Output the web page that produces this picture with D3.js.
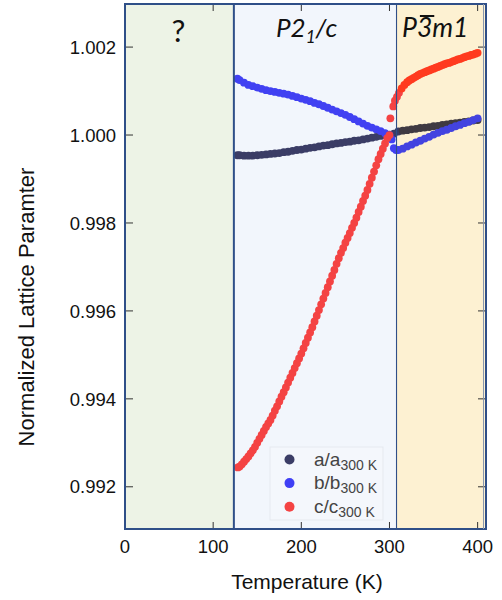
<!DOCTYPE html>
<html><head><meta charset="utf-8">
<script src="https://cdn.jsdelivr.net/npm/d3@7"></script>
<style>body{margin:0;background:#fff}svg{display:block}</style>
</head><body><div id="chart"></div>
<script>
// ---------- data ----------
const xTicks = [0, 100, 200, 300, 400];
const yTicks = [0.992, 0.994, 0.996, 0.998, 1.000, 1.002];
const phaseNames = ["?", "P2_1/c", "P-3m1"];
const phaseStart = [0, 123.5, 308];
const phaseEnd = [123.5, 308, 409.5];
const seriesNames = ["a/a", "b/b", "c/c"];
const seriesSub = "300 K";

// a / a300K
const aT = [127.5,130,135,140,145,150,155,160,165,170,175,180,185,190,195,200,205,210,215,220,225,230,235,240,245,250,255,260,265,270,275,280,285,290,295,300,305,
  310,315,320,325,330,335,340,345,350,355,360,365,370,375,380,385,390,395,400];
const aV = [0.99954,0.99954,0.99953,0.99953,0.99953,0.99954,0.99955,0.99956,0.99957,0.99958,0.99959,0.99961,0.99962,0.99964,0.99966,0.99967,0.99969,0.99971,0.99972,0.99974,0.99976,0.99977,0.99979,0.99981,0.99982,0.99984,0.99985,0.99987,0.99988,0.99990,0.99992,0.99994,0.99996,0.99998,1.00000,1.00001,1.00003,
  1.00008,1.00010,1.00011,1.00013,1.00014,1.00016,1.00017,1.00018,1.00020,1.00021,1.00023,1.00024,1.00026,1.00027,1.00028,1.00030,1.00031,1.00033,1.00034];

// b / b300K
const bT = [127.5,130,135,140,145,150,155,160,165,170,175,180,185,190,195,200,205,210,215,220,225,230,235,240,245,250,255,260,265,270,275,280,285,290,295,300,302.5,305,307.5,
  310,315,320,325,330,335,340,345,350,355,360,365,370,375,380,385,390,395,400];
const bV = [1.00128,1.00125,1.00119,1.00114,1.00111,1.00108,1.00105,1.00102,1.00100,1.00098,1.00096,1.00094,1.00092,1.00089,1.00086,1.00083,1.00080,1.00077,1.00073,1.00070,1.00066,1.00062,1.00058,1.00054,1.00050,1.00046,1.00041,1.00036,1.00031,1.00026,1.00021,1.00017,1.00013,1.00009,1.00004,1.00000,0.99990,0.99970,0.99966,
  0.99966,0.99969,0.99974,0.99978,0.99983,0.99987,0.99992,0.99996,1.00001,1.00005,1.00009,1.00012,1.00016,1.00020,1.00023,1.00027,1.00030,1.00034,1.00038];

// c / c300K
const cT = [128,130,132.5,135,137.5,140,142.5,145,147.5,150,152.5,155,157.5,160,162.5,165,167.5,170,172.5,175,177.5,180,182.5,185,187.5,190,192.5,195,197.5,200,
  202.5,205,207.5,210,212.5,215,217.5,220,222.5,225,227.5,230,232.5,235,237.5,240,242.5,245,247.5,250,252.5,255,257.5,260,262.5,265,267.5,270,272.5,275,
  277.5,280,282.5,285,287.5,290,292.5,295,297.5,300,
  301,304.3,306.2,308.5,310.8,313.8,316.9,
  320,322.5,325,327.5,330,332.5,335,337.5,340,342.5,345,347.5,350,352.5,355,357.5,360,362.5,365,367.5,370,372.5,375,377.5,380,382.5,385,387.5,390,392.5,395,397.5,400];
const cV = [0.99244,0.99246,0.99251,0.99257,0.99263,0.99269,0.99276,0.99283,0.99291,0.99300,0.99309,0.99318,0.99327,0.99336,0.99344,0.99352,0.99362,0.99373,0.99383,0.99394,0.99405,0.99415,0.99426,0.99437,0.99448,0.99459,0.99470,0.99481,0.99492,0.99503,
  0.99515,0.99527,0.99539,0.99551,0.99563,0.99576,0.99589,0.99602,0.99615,0.99628,0.99641,0.99654,0.99667,0.99680,0.99693,0.99707,0.99720,0.99732,0.99743,0.99755,0.99766,0.99777,0.99789,0.99800,0.99812,0.99825,0.99837,0.99850,0.99862,0.99875,
  0.99889,0.99903,0.99917,0.99931,0.99945,0.99957,0.99969,0.99981,0.99993,1.00000,
  1.00038,1.00065,1.00078,1.00087,1.00096,1.00106,1.00114,
  1.00120,1.00124,1.00127,1.00130,1.00133,1.00136,1.00139,1.00141,1.00143,1.00145,1.00147,1.00149,1.00151,1.00153,1.00155,1.00157,1.00159,1.00161,1.00163,1.00164,1.00166,1.00168,1.00170,1.00172,1.00173,1.00175,1.00177,1.00179,1.00180,1.00182,1.00183,1.00185,1.00187];

// ---------- layout / style ----------
const W = 502, H = 600;
const m = {left: 125, top: 4, right: 16, bottom: 71};
const iw = W - m.left - m.right, ih = H - m.top - m.bottom;
const phaseFill = ["#edf3e6", "#f2f6fc", "#fdf1d2"];
const lowCol = ["#3b3d66", "#4141f2", "#f44343"];
const highCol = ["#3f3a42", "#4343e0", "#ff3b1f"];
const legendCol = ["#3b3d66", "#3f3ff5", "#f44343"];
const frameCol = "#2f4f88";
const sans = "Liberation Sans, Arial, sans-serif";

const svg = d3.select("#chart").append("svg").attr("width", W).attr("height", H);
const x = d3.scaleLinear().domain([0, 409.5]).range([m.left, m.left + iw]);
const y = d3.scaleLinear().domain([0.99104, 1.00298]).range([m.top + ih, m.top]);

// phase backgrounds
svg.selectAll("rect.phase").data(phaseStart).join("rect")
  .attr("x", (d) => x(d)).attr("y", m.top)
  .attr("width", (d, i) => x(phaseEnd[i]) - x(d)).attr("height", ih)
  .attr("fill", (d, i) => phaseFill[i]);

// clip
svg.append("clipPath").attr("id", "clip").append("rect")
  .attr("x", m.left).attr("y", m.top).attr("width", iw).attr("height", ih);

// axes ticks (inward)
const tickCol = "#333";
const gx = svg.append("g");
xTicks.forEach(t => {
  gx.append("line").attr("x1", x(t)).attr("x2", x(t)).attr("y1", m.top + ih).attr("y2", m.top + ih - 7).attr("stroke", tickCol).attr("stroke-width", 1);
  gx.append("line").attr("x1", x(t)).attr("x2", x(t)).attr("y1", m.top).attr("y2", m.top + 7).attr("stroke", tickCol).attr("stroke-width", 1);
  gx.append("text").attr("x", x(t)).attr("y", m.top + ih + 24).attr("text-anchor", "middle")
    .attr("font-family", sans).attr("font-size", 18.5).attr("fill", "#111").text(t);
});
const gy = svg.append("g");
yTicks.forEach(t => {
  gy.append("line").attr("x1", m.left).attr("x2", m.left + 8).attr("y1", y(t)).attr("y2", y(t)).attr("stroke", tickCol).attr("stroke-width", 1);
  gy.append("line").attr("x1", m.left + iw).attr("x2", m.left + iw - 8).attr("y1", y(t)).attr("y2", y(t)).attr("stroke", tickCol).attr("stroke-width", 1);
  gy.append("text").attr("x", m.left - 9).attr("y", y(t)).attr("dy", "0.36em").attr("text-anchor", "end")
    .attr("font-family", sans).attr("font-size", 18.5).attr("fill", "#111").text(d3.format(".3f")(t));
});

// data points
const plot = svg.append("g").attr("clip-path", "url(#clip)");
const series = [[aT, aV], [bT, bV], [cT, cV]];
series.forEach(([T, V], si) => {
  plot.append("g").selectAll("circle").data(T).join("circle")
    .attr("cx", (d) => x(d)).attr("cy", (d, i) => y(V[i])).attr("r", 3.9)
    .attr("fill", (d) => d < 312 ? lowCol[si] : highCol[si]);
});

// phase boundaries
svg.append("line").attr("x1", x(phaseStart[1])).attr("x2", x(phaseStart[1])).attr("y1", m.top).attr("y2", m.top + ih)
  .attr("stroke", frameCol).attr("stroke-width", 2);
svg.append("line").attr("x1", x(phaseStart[2])).attr("x2", x(phaseStart[2])).attr("y1", m.top).attr("y2", m.top + ih)
  .attr("stroke", frameCol).attr("stroke-width", 1.1);

// frame
svg.append("rect").attr("x", m.left).attr("y", m.top).attr("width", iw).attr("height", ih)
  .attr("fill", "none").attr("stroke", frameCol).attr("stroke-width", 2);
svg.append("line").attr("x1", m.left + iw - 2.5).attr("x2", m.left + iw - 2.5).attr("y1", m.top).attr("y2", m.top + ih)
  .attr("stroke", "#8a97ad").attr("stroke-width", 1);

// phase labels
const lf = "Lato, 'Open Sans', sans-serif";
svg.append("text").attr("x", (x(phaseStart[0]) + x(phaseEnd[0])) / 2 - 1).attr("y", 42).attr("text-anchor", "middle")
  .attr("font-family", lf).attr("font-size", 31).attr("fill", "#111").text(phaseNames[0]);
const p2 = svg.append("text").attr("x", 276).attr("y", 37).attr("font-family", lf).attr("font-style", "italic")
  .attr("font-size", 26).attr("fill", "#111");
p2.append("tspan").text("P2");
p2.append("tspan").attr("font-size", 17).attr("dy", 6).text("1");
p2.append("tspan").attr("dy", -6).text("/c");
const p3 = svg.append("text").attr("x", 402).attr("y", 37).attr("font-family", lf).attr("font-style", "italic")
  .attr("font-size", 26.5).attr("fill", "#111").text("P3m1");
// overline over the "3"
{
  const node = p3.node();
  const s = node.getStartPositionOfChar(1), e = node.getEndPositionOfChar(1);
  svg.append("line").attr("x1", s.x + 3).attr("x2", e.x + 2).attr("y1", 16).attr("y2", 16)
    .attr("stroke", "#111").attr("stroke-width", 2);
}

// legend
const lg = svg.append("g");
lg.append("rect").attr("x", 270).attr("y", 447).attr("width", 113).attr("height", 73)
  .attr("fill", "#f4f7fc").attr("stroke", "#e6e9ef").attr("stroke-width", 1);
seriesNames.forEach((n, i) => {
  const cy = 459.5 + i * 23.6;
  lg.append("circle").attr("cx", 289.5).attr("cy", cy).attr("r", 5).attr("fill", legendCol[i]);
  const t = lg.append("text").attr("x", 314).attr("y", cy + 6).attr("font-family", sans)
    .attr("font-size", 19).attr("fill", "#444");
  t.append("tspan").text(n);
  t.append("tspan").attr("font-size", 14).attr("dy", 4).text(seriesSub);
});

// axis titles
svg.append("text").attr("x", 307).attr("y", 589).attr("text-anchor", "middle")
  .attr("font-family", sans).attr("font-size", 21).attr("fill", "#111").text("Temperature (K)");
svg.append("text").attr("transform", `translate(34,307) rotate(-90)`).attr("text-anchor", "middle")
  .attr("font-family", sans).attr("font-size", 22).attr("fill", "#111").text("Normalized Lattice Paramter");
</script></body></html>
